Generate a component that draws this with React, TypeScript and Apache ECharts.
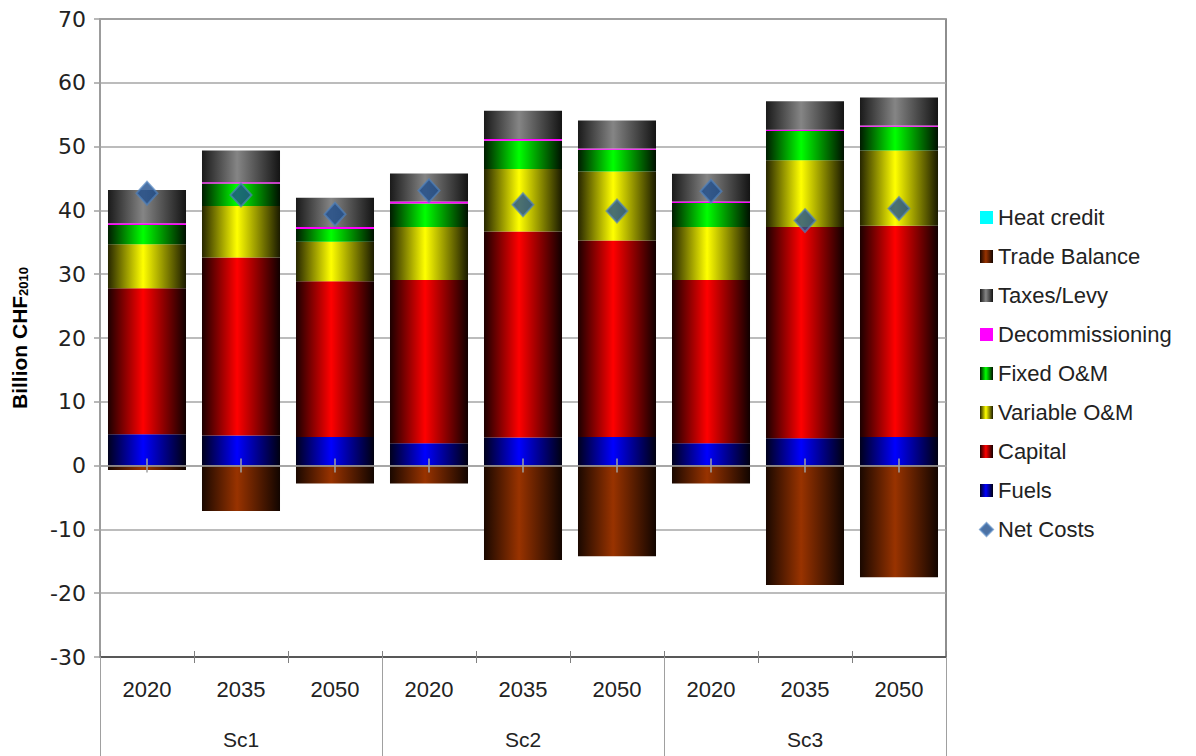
import React, { useEffect, useRef } from "react";
import * as echarts from "echarts";

const years = ["2020", "2035", "2050", "2020", "2035", "2050", "2020", "2035", "2050"];
const scenarios = ["Sc1", "Sc2", "Sc3"];

const fuels = [4.9, 4.7, 4.5, 3.5, 4.4, 4.5, 3.5, 4.3, 4.5];
const capital = [22.9, 27.9, 24.4, 25.6, 32.3, 30.8, 25.6, 33.1, 33.1];
const variableOM = [6.9, 8.1, 6.2, 8.3, 9.8, 10.8, 8.3, 10.45, 11.8];
const fixedOM = [3.0, 3.5, 2.0, 3.7, 4.4, 3.4, 3.75, 4.6, 3.7];
const decommissioning = [0.3, 0.2, 0.3, 0.3, 0.3, 0.2, 0.25, 0.2, 0.2];
const taxesLevy = [5.2, 5.0, 4.6, 4.4, 4.4, 4.4, 4.35, 4.45, 4.4];
const tradeBalance = [-0.7, -7.1, -2.8, -2.8, -14.8, -14.2, -2.8, -18.7, -17.5];
const heatCredit = [0, 0, 0, 0, 0, 0, 0, 0, 0];
const netCosts = [42.7, 42.4, 39.4, 43.1, 40.9, 39.9, 43.0, 38.4, 40.3];

const yTicks = { min: -30, max: 70, interval: 10 };

function grad(edge: string, mid: string, edge2?: string) {
  return new echarts.graphic.LinearGradient(0, 0, 1, 0, [
    { offset: 0, color: edge },
    { offset: 0.45, color: mid },
    { offset: 1, color: edge2 || edge },
  ]);
}

export default function App() {
  const ref = useRef<HTMLDivElement>(null);
  useEffect(() => {
    if (!ref.current) return;
    const chart = echarts.init(ref.current, undefined, { renderer: "svg" });
    const font = "Liberation Sans";
    const barBase = { type: "bar", stack: "total", barCategoryGap: "17%", xAxisIndex: 0, yAxisIndex: 0 };
    const option: any = {
      animation: false,
      backgroundColor: "#ffffff",
      grid: {
        left: 100,
        top: 19,
        width: 846,
        height: 638,
        show: true,
        borderColor: "#6a6a6a",
        borderWidth: 1.5,
        backgroundColor: "transparent",
      },
      legend: {
        orient: "vertical",
        left: 974,
        top: 201,
        itemWidth: 13,
        itemHeight: 13,
        itemGap: 16,
        textStyle: { fontFamily: font, fontSize: 22, color: "#222", lineHeight: 23 },
        data: [
          { name: "Heat credit", icon: "rect" },
          { name: "Trade Balance", icon: "rect" },
          { name: "Taxes/Levy", icon: "rect" },
          { name: "Decommissioning", icon: "rect" },
          { name: "Fixed O&M", icon: "rect" },
          { name: "Variable O&M", icon: "rect" },
          { name: "Capital", icon: "rect" },
          { name: "Fuels", icon: "rect" },
          { name: "Net Costs", icon: "diamond" },
        ],
      },
      xAxis: [
        {
          type: "category",
          data: years,
          position: "bottom",
          axisLine: { onZero: false, lineStyle: { color: "#404040", width: 1.5 } },
          axisTick: { show: true, interval: 0, alignWithLabel: false, length: 6, lineStyle: { color: "#808080" } },
          axisLabel: { interval: 0, margin: 21, fontFamily: font, fontSize: 22, color: "#222" },
          splitLine: { show: false },
        },
        {
          type: "category",
          data: scenarios,
          position: "bottom",
          axisLine: { show: false, onZero: false },
          axisTick: { show: true, interval: 0, alignWithLabel: false, length: 104, lineStyle: { color: "#a0a0a0", width: 1 } },
          axisLabel: { interval: 0, margin: 72, fontFamily: font, fontSize: 21, color: "#222" },
          splitLine: { show: false },
        },
        {
          type: "category",
          data: years,
          position: "bottom",
          axisLine: { show: false, onZero: false },
          axisTick: { show: true, inside: true, interval: 0, alignWithLabel: false, length: 6, lineStyle: { color: "#808080" } },
          axisLabel: { show: false },
          splitLine: { show: false },
        },
        {
          type: "category",
          data: years,
          position: "bottom",
          z: 5,
          axisLine: { show: true, onZero: true, onZeroAxisIndex: 0, lineStyle: { color: "#a0a0a0", width: 1.5 } },
          axisTick: { show: true, interval: 0, alignWithLabel: true, length: 7, lineStyle: { color: "#a0a0a0", width: 1.5 } },
          axisLabel: { show: false },
          splitLine: { show: false },
        },
        {
          type: "category",
          data: years,
          position: "bottom",
          z: 5,
          axisLine: { show: false, onZero: true, onZeroAxisIndex: 1 },
          axisTick: { show: true, inside: true, interval: 0, alignWithLabel: true, length: 7, lineStyle: { color: "#a0a0a0", width: 1.5 } },
          axisLabel: { show: false },
          splitLine: { show: false },
        },
      ],
      yAxis: [
        {
          type: "value",
          min: yTicks.min,
          max: yTicks.max,
          interval: yTicks.interval,
          name: "{a|Billion CHF}{b|2010}",
          nameLocation: "middle",
          nameGap: 70,
          nameRotate: 90,
          nameTextStyle: {
            rich: {
              a: { fontFamily: font, fontSize: 21, fontWeight: "bold", color: "#000", lineHeight: 26, verticalAlign: "bottom" },
              b: { fontFamily: font, fontSize: 13, fontWeight: "bold", color: "#000", lineHeight: 17, verticalAlign: "bottom" },
            },
          },
          axisLine: { show: true, onZero: false, lineStyle: { color: "#a0a0a0", width: 1.5 } },
          axisTick: { show: true, length: 6, lineStyle: { color: "#a0a0a0", width: 1.5 } },
          axisLabel: { fontFamily: "DejaVu Sans", fontSize: 22, color: "#222", margin: 14 },
          splitLine: { show: true, lineStyle: { color: "#a6a6a6", width: 1.5 } },
        },
        {
          type: "value",
          min: yTicks.min,
          max: yTicks.max,
          interval: yTicks.interval,
          position: "right",
          axisLine: { show: false, onZero: false },
          axisTick: { show: false },
          axisLabel: { show: false },
          splitLine: { show: false },
        },
      ],
      series: [
        { ...barBase, name: "Fuels", data: fuels, itemStyle: { color: grad("#00001c", "#0000ff", "#000010") } },
        { ...barBase, name: "Capital", data: capital, itemStyle: { color: grad("#1c0000", "#ff0000", "#100000") } },
        { ...barBase, name: "Variable O&M", data: variableOM, itemStyle: { color: grad("#262600", "#ffff00", "#1a1a00") } },
        { ...barBase, name: "Fixed O&M", data: fixedOM, itemStyle: { color: grad("#001c00", "#00ff00", "#001000") } },
        { ...barBase, name: "Decommissioning", data: decommissioning, itemStyle: { color: "#ff00ff" } },
        { ...barBase, name: "Taxes/Levy", data: taxesLevy, itemStyle: { color: grad("#1a1a1a", "#858585", "#141414") } },
        { ...barBase, name: "Trade Balance", data: tradeBalance, itemStyle: { color: grad("#1a0800", "#993300", "#120500") } },
        { ...barBase, name: "Heat credit", data: heatCredit, itemStyle: { color: "#00ffff" } },
        {
          type: "scatter",
          name: "Net Costs",
          data: netCosts,
          xAxisIndex: 0,
          yAxisIndex: 0,
          symbol: "diamond",
          symbolSize: [21, 23],
          z: 10,
          itemStyle: { color: "#1f4e8c", borderColor: "rgba(79,129,189,0.85)", borderWidth: 2 },
        },
      ],
    };
    chart.setOption(option);
    return () => chart.dispose();
  }, []);
  return (
    <div
      ref={ref}
      style={{ position: "fixed", left: 0, top: 0, width: 1196, height: 756, background: "#fff" }}
    />
  );
}
